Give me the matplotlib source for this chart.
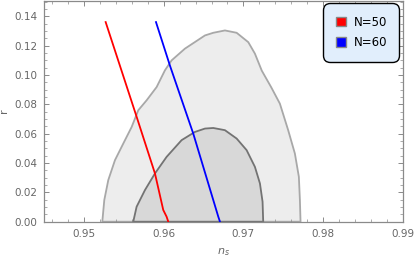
import matplotlib
matplotlib.use("Agg")
import matplotlib.pyplot as plt
from matplotlib.ticker import MultipleLocator
from matplotlib.patches import Patch

# 2-sigma (outer) contour, ns vs r
outer_ns = [0.95231, 0.95256, 0.95306, 0.95390, 0.95494, 0.95599, 0.95682, 0.95787,
            0.95912, 0.96016, 0.96100, 0.96267, 0.96518, 0.96622, 0.96768, 0.96915,
            0.97061, 0.97144, 0.97230, 0.97350, 0.97457, 0.97561, 0.97645, 0.97695,
            0.97708, 0.97716]
outer_r = [0.0, 0.0148, 0.0284, 0.0420, 0.0533, 0.0646, 0.0760, 0.0828,
           0.0918, 0.1032, 0.1100, 0.1180, 0.1270, 0.1288, 0.1304, 0.1288,
           0.1224, 0.1146, 0.1030, 0.0915, 0.0805, 0.0624, 0.0465, 0.0306,
           0.0148, 0.0]

# 1-sigma (inner) contour
inner_ns = [0.95619, 0.95661, 0.95766, 0.95891, 0.96037, 0.96225, 0.96392, 0.96518,
            0.96622, 0.96768, 0.96915, 0.97040, 0.97144, 0.97207, 0.97240, 0.97248]
inner_r = [0.0, 0.0102, 0.0216, 0.0329, 0.0442, 0.0556, 0.0612, 0.0635,
           0.0639, 0.0624, 0.0567, 0.0488, 0.0374, 0.0261, 0.0136, 0.0]

# model predictions
n50_ns = [0.95273, 0.95662, 0.95891, 0.95995, 0.96016, 0.96037, 0.96058]
n50_r = [0.1361, 0.0714, 0.0329, 0.0080, 0.0057, 0.0034, 0.0]
n60_ns = [0.95904, 0.96079, 0.96371, 0.96685, 0.96706]
n60_r = [0.1361, 0.1064, 0.0601, 0.0034, 0.0]

fig = plt.figure(figsize=(4.15, 2.59), dpi=100)
ax = fig.add_axes([0.106, 0.144, 0.865, 0.854])

ax.fill(outer_ns, outer_r, facecolor="#ededed", edgecolor="#a8a8a8", linewidth=1.3, zorder=1)
ax.fill(inner_ns, inner_r, facecolor="#d8d8d8", edgecolor="#737373", linewidth=1.3, zorder=2)

ax.plot(n50_ns, n50_r, color="red", linewidth=1.3, zorder=3)
ax.plot(n60_ns, n60_r, color="blue", linewidth=1.3, zorder=3)

ax.set_xlim(0.945, 0.99)
ax.set_ylim(0, 0.1508)
ax.xaxis.set_major_locator(MultipleLocator(0.01))
ax.xaxis.set_minor_locator(MultipleLocator(0.002))
ax.yaxis.set_major_locator(MultipleLocator(0.02))
ax.yaxis.set_minor_locator(MultipleLocator(0.005))
ax.xaxis.set_major_formatter(plt.FuncFormatter(lambda v, p: f"{v:.2f}"))
ax.yaxis.set_major_formatter(plt.FuncFormatter(lambda v, p: f"{v:.2f}"))

for s in ax.spines.values():
    s.set_color("#8a8a8a")
    s.set_linewidth(0.9)
ax.tick_params(which="both", direction="in", top=True, right=True,
               color="#8a8a8a", labelcolor="#666666", labelsize=7.5)
ax.tick_params(which="major", length=3.5, width=0.7, pad=5)
ax.tick_params(which="minor", length=2, width=0.5)

ax.set_xlabel("$n_s$", color="#666666", fontsize=8)
ax.set_ylabel("r", color="#666666", fontsize=8, rotation=90)
ax.xaxis.set_label_coords(0.5, -0.11)
ax.yaxis.set_label_coords(-0.097, 0.5)

handles = [Patch(facecolor="red", edgecolor="#888888", label="N=50"),
           Patch(facecolor="blue", edgecolor="#888888", label="N=60")]
leg = ax.legend(handles=handles, loc="upper right", bbox_to_anchor=(0.99, 0.988),
                fontsize=8.5, frameon=True, fancybox=True, handlelength=0.9,
                handleheight=0.9, handletextpad=0.6, borderpad=1.05, labelspacing=0.65,
                borderaxespad=0.0)
frame = leg.get_frame()
frame.set_boxstyle("round", pad=0, rounding_size=0.6)
frame.set_facecolor("#e1eefc")
frame.set_edgecolor("black")
frame.set_alpha(1)
frame.set_linewidth(1.0)

fig.savefig("out.png", dpi=100)
